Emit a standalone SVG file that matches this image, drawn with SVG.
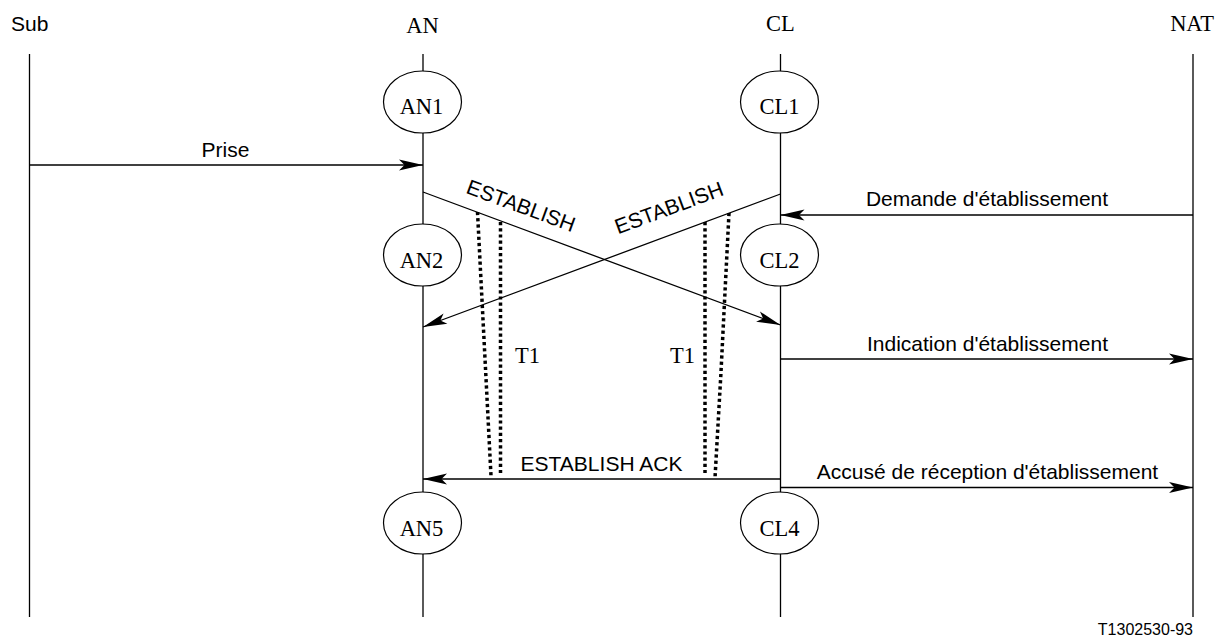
<svg xmlns="http://www.w3.org/2000/svg" width="1221" height="637" viewBox="0 0 1221 637">
  <style>
    .life { stroke: #000; stroke-width: 1.3; fill: none; }
    .msg { stroke: #000; stroke-width: 1.3; fill: none; marker-end: url(#ah); }
    .state { fill: #fff; stroke: #000; stroke-width: 1.2; }
    .timer { stroke: #000; stroke-width: 3.5; stroke-dasharray: 3.2 3; fill: none; }
    .sans { font-family: "Liberation Sans", Arial, sans-serif; font-size: 21px; fill: #000; }
    .serif { font-family: "Liberation Serif", "Times New Roman", serif; font-size: 22.5px; fill: #000; }
    .ref { font-family: "Liberation Sans", Arial, sans-serif; font-size: 16px; fill: #000; }
  </style>
  <defs>
    <marker id="ah" markerUnits="userSpaceOnUse" markerWidth="26" markerHeight="14" viewBox="-25 -7 26 14" refX="0" refY="0" orient="auto" overflow="visible">
      <path d="M0,0 L-24,-5.5 L-18.5,0 L-24,5.5 Z" fill="#000"/>
    </marker>
  </defs>
  <rect width="1221" height="637" fill="#fff"/>

  <!-- entity headings -->
  <g id="headings">
    <text class="sans" x="11" y="31">Sub</text>
    <text class="serif" x="422.5" y="32.5" text-anchor="middle">AN</text>
    <text class="serif" x="780.5" y="30.5" text-anchor="middle">CL</text>
    <text class="serif" x="1192" y="31" text-anchor="middle">NAT</text>
  </g>

  <!-- lifelines -->
  <g id="lifelines">
    <line class="life" x1="29.5" y1="54" x2="29.5" y2="617"/>
    <line class="life" x1="423" y1="54" x2="423" y2="617"/>
    <line class="life" x1="780.5" y1="54" x2="780.5" y2="617"/>
    <line class="life" x1="1193" y1="54" x2="1193" y2="617"/>
  </g>

  <!-- connectors -->
  <g id="connectors">
    <line class="msg" x1="29.5" y1="165" x2="423" y2="165"/>
    <line class="msg" x1="423" y1="192" x2="780.5" y2="325"/>
    <line class="msg" x1="780.5" y1="194" x2="423" y2="327"/>
    <line class="msg" x1="1193" y1="215" x2="780.5" y2="215"/>
    <line class="msg" x1="780.5" y1="359" x2="1193" y2="359"/>
    <line class="msg" x1="780.5" y1="479" x2="423" y2="479"/>
    <line class="msg" x1="780.5" y1="487.5" x2="1193" y2="487.5"/>
  </g>

  <!-- message labels -->
  <g id="labels">
    <text class="sans" x="225.5" y="157" text-anchor="middle">Prise</text>
    <text class="sans" transform="translate(518.5,212.5) rotate(20.2)" text-anchor="middle">ESTABLISH</text>
    <text class="sans" transform="translate(671.5,214.5) rotate(-20.4)" text-anchor="middle">ESTABLISH</text>
    <text class="sans" x="987" y="206" text-anchor="middle">Demande d'établissement</text>
    <text class="sans" x="987.5" y="351" text-anchor="middle">Indication d'établissement</text>
    <text class="sans" x="601.5" y="471" text-anchor="middle">ESTABLISH ACK</text>
    <text class="sans" x="987.5" y="479" text-anchor="middle">Accusé de réception d'établissement</text>
  </g>

  <!-- T1 supervision timers -->
  <g id="timer-an">
    <line class="timer" x1="477.5" y1="212" x2="491" y2="476"/>
    <line class="timer" x1="500.5" y1="222" x2="500.5" y2="473"/>
    <text class="serif" x="515" y="363">T1</text>
  </g>
  <g id="timer-cl">
    <line class="timer" x1="705" y1="222" x2="705" y2="473"/>
    <polyline class="timer" points="729,213 725,292 721,372 715,478"/>
    <text class="serif" x="670" y="363">T1</text>
  </g>

  <!-- states -->
  <g id="AN1">
    <ellipse class="state" cx="422.5" cy="102" rx="39" ry="31"/>
    <text class="serif" x="421.5" y="114" text-anchor="middle">AN1</text>
  </g>
  <g id="AN2">
    <ellipse class="state" cx="422.5" cy="255" rx="39" ry="31"/>
    <text class="serif" x="421.5" y="268" text-anchor="middle">AN2</text>
  </g>
  <g id="AN5">
    <ellipse class="state" cx="422.5" cy="523" rx="39" ry="31"/>
    <text class="serif" x="421.5" y="536" text-anchor="middle">AN5</text>
  </g>
  <g id="CL1">
    <ellipse class="state" cx="779.5" cy="102" rx="39" ry="31"/>
    <text class="serif" x="779.5" y="114" text-anchor="middle">CL1</text>
  </g>
  <g id="CL2">
    <ellipse class="state" cx="779.5" cy="255" rx="39" ry="31"/>
    <text class="serif" x="779.5" y="268" text-anchor="middle">CL2</text>
  </g>
  <g id="CL4">
    <ellipse class="state" cx="779.5" cy="523" rx="39" ry="31"/>
    <text class="serif" x="779.5" y="536" text-anchor="middle">CL4</text>
  </g>

  <text class="ref" x="1193" y="635" text-anchor="end">T1302530-93</text>
</svg>
